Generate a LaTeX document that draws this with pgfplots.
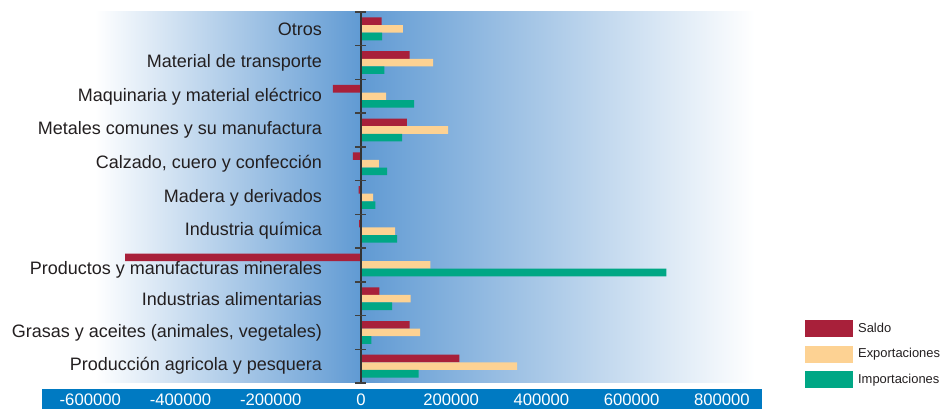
\documentclass[border=0pt]{standalone}
\usepackage{fontspec}
\setmainfont{Liberation Sans}
\usepackage{pgfplots}
\usepackage{pgfplotstable}
\pgfplotsset{compat=1.18}

\definecolor{saldo}{RGB}{168,32,58}
\definecolor{expo}{RGB}{253,210,147}
\definecolor{impo}{RGB}{0,167,133}
\definecolor{bgblue}{RGB}{96,154,211}
\definecolor{band}{RGB}{0,122,194}
\definecolor{txt}{RGB}{35,31,32}

% y: 0 = bottom category (Produccion agricola) ... 10 = Otros
\pgfplotstableread{
y  saldo   expo    impo
0  218000  346000  128000
1  108000  131000  23000
2  41000   110000  69000
3  -523000 154000  677000
4  -4000   76000   80000
5  -5000   27000   32000
6  -18000  40000   58000
7  102000  193000  91000
8  -62000  56000   118000
9  108000  160000  52000
10 46000   93000   47000
}\balanza

\begin{document}
\begin{tikzpicture}
\begin{axis}[
  at={(0,0)}, anchor=south west,
  set layers,
  width=540pt, height=278.25pt, scale only axis,
  xmin=-707000, xmax=889000, ymin=-0.5, ymax=10.5,
  enlargelimits=false,
  clip=false,
  xbar, bar width=5.7pt,
  axis line style={draw=none},
  tick style={draw=none},
  xtick={-600000,-400000,-200000,0,200000,400000,600000,800000},
  xticklabels={-600000,-400000,-200000,0,200000,400000,600000,800000},
  scaled x ticks=false,
  xticklabel style={anchor=center, yshift=-12.75pt, text=white,
    font=\fontsize{12.5}{14}\selectfont},
  ytick={0,1,2,3,4,5,6,7,8,9,10},
  yticklabels={Producción agricola y pesquera,
    {Grasas y aceites (animales, vegetales)},
    Industrias alimentarias,
    \raisebox{-3.5pt}[\height][\depth]{Productos y manufacturas minerales},
    Industria química,
    Madera y derivados,
    {Calzado, cuero y confección},
    Metales comunes y su manufactura,
    Maquinaria y material eléctrico,
    Material de transporte,
    Otros},
  yticklabel style={anchor=east, xshift=217.75pt, text=txt,
    font=\fontsize{13.5}{16}\selectfont},
  legend style={draw=none, fill=none, at={(1.06,0.17)}, anchor=north west,
    inner sep=0pt, row sep=6.3pt, text=txt,
    font=\fontsize{9.7}{11}\selectfont,
    nodes={inner sep=1pt, anchor=west},
    /tikz/every odd column/.style={column sep=3pt}},
  legend cell align=left,
  legend image code/.code={\path[#1,draw=none] (0pt,-6.375pt) rectangle (35.5pt,6.375pt);},
]
\begin{pgfonlayer}{axis background}
  \shade[left color=white, right color=bgblue]
    (axis cs:-589500,-0.5) rectangle (axis cs:0,10.5);
  \shade[left color=bgblue, right color=white]
    (axis cs:0,-0.5) rectangle (axis cs:873000,10.5);
  \fill[band] ([yshift=-4.5pt]axis cs:-707000,-0.5) rectangle ([yshift=-19.5pt]axis cs:889000,-0.5);
\end{pgfonlayer}

\addplot[fill=saldo, draw=none, bar shift=5.7pt] table[x=saldo, y=y] {\balanza};
\addlegendentry{Saldo}
\addplot[fill=expo, draw=none, bar shift=0pt] table[x=expo, y=y] {\balanza};
\addlegendentry{Exportaciones}
\addplot[fill=impo, draw=none, bar shift=-5.7pt] table[x=impo, y=y] {\balanza};
\addlegendentry{Importaciones}

\draw[black!80, line width=1.1pt] (axis cs:0,-0.5) -- (axis cs:0,10.5);
\pgfplotsinvokeforeach{-0.5,0.5,1.5,2.5,3.5,4.5,5.5,6.5,7.5,8.5,9.5,10.5}{
  \draw[black!75, line width=1.1pt] ([xshift=-4.1pt]axis cs:0,#1) -- ([xshift=4.1pt]axis cs:0,#1);
}
\end{axis}
\pgfresetboundingbox
\path[use as bounding box] (-31.5pt,-19.5pt) rectangle (675pt,287.25pt);
\end{tikzpicture}
\end{document}
